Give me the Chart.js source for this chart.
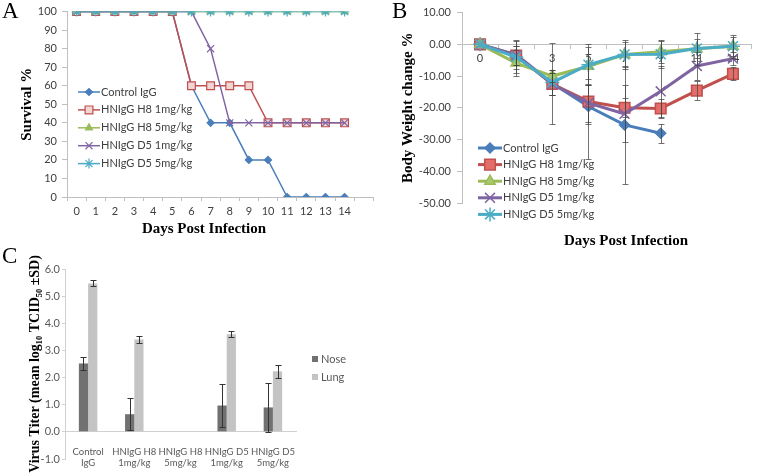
<!DOCTYPE html>
<html>
<head>
<meta charset="utf-8">
<script src="https://cdn.jsdelivr.net/npm/chart.js"></script>
<style>
  body { margin: 0; background: #fff; }
  #wrap { position: relative; width: 760px; height: 473px; overflow: hidden; }
  canvas { position: absolute; }
  .panel { position: absolute; font-family: "Liberation Serif", serif; font-size: 23px; line-height: 23px; color: #000; }
  .xtitle { position: absolute; font-family: "Liberation Serif", serif; font-weight: bold; font-size: 15px; line-height: 18px; white-space: nowrap; transform: translate(-50%, -50%); color: #000; }
</style>
</head>
<body>
<div id="wrap">
  <canvas id="survival" width="380" height="240" style="left:0;top:0"></canvas>
  <canvas id="weight" width="380" height="250" style="left:380px;top:0"></canvas>
  <canvas id="titer" width="380" height="228" style="left:0;top:245px"></canvas>
  <div class="panel" style="left:2px;top:-1px">A</div>
  <div class="panel" style="left:392px;top:-1px">B</div>
  <div class="panel" style="left:2px;top:244px">C</div>
  <div class="xtitle" style="left:204px;top:228px">Days Post Infection</div>
  <div class="xtitle" style="left:626px;top:240px">Days Post Infection</div>
</div>
<script>
// series names shared by A and B
const groupNames = ["Control IgG", "HNIgG H8 1mg/kg", "HNIgG H8 5mg/kg", "HNIgG D5 1mg/kg", "HNIgG D5 5mg/kg"];

// A: survival
const survivalDays = ["0", "1", "2", "3", "4", "5", "6", "7", "8", "9", "10", "11", "12", "13", "14", ""];
const survControl = [100, 100, 100, 100, 100, 100, 60, 40, 40, 20, 20, 0, 0, 0, 0];
const survH8low = [100, 100, 100, 100, 100, 100, 60, 60, 60, 60, 40, 40, 40, 40, 40];
const survH8high = [100, 100, 100, 100, 100, 100, 100, 100, 100, 100, 100, 100, 100, 100, 100];
const survD5low = [100, 100, 100, 100, 100, 100, 100, 80, 40, 40, 40, 40, 40, 40, 40];
const survD5high = [100, 100, 100, 100, 100, 100, 100, 100, 100, 100, 100, 100, 100, 100, 100];

// B: body weight change
const weightDays = ["0", "1", "3", "5", "7", "9", "11", "14"];
const wControl = [0, -3.2, -12.3, -19.6, -25.4, -28, null, null];
const wH8low = [0, -3.5, -12.5, -18, -20, -20.2, -14.6, -9.3];
const wH8high = [0, -5.9, -10, -6.9, -3.2, -2.3, -1.4, -0.6];
const wD5low = [0, -3.5, -12.5, -18.5, -21.9, -14.8, -6.8, -4.5];
const wD5high = [0, -4, -12, -6.4, -3.2, -3.1, -1.3, -0.6];
const sdControl = [0, 4.5, 12.8, 16.5, 18.5, 3, null, null];
const sdH8low = [0, 3, 3.5, 7, 3, 3, 3, 2];
const sdH8high = [0, 4, 2, 6, 4.5, 3.5, 5, 3];
const sdD5low = [0, 3, 3.5, 6, 9, 8, 4.5, 2];
const sdD5high = [0, 5, 4, 6.5, 4, 4.5, 3, 3.6];

// C: virus titer
const titerGroups = [["Control", "IgG"], ["HNIgG H8", "1mg/kg"], ["HNIgG H8", "5mg/kg"], ["HNIgG D5", "1mg/kg"], ["HNIgG D5", "5mg/kg"]];
const noseTiter = [2.52, 0.65, null, 0.97, 0.9];
const lungTiter = [5.47, 3.4, null, 3.6, 2.23];
const noseSD = [0.25, 0.58, null, 0.78, 0.9];
const lungSD = [0.11, 0.13, null, 0.12, 0.24];

const colors = ["#4a7ebb", "#c0504d", "#9bbb59", "#8064a2", "#4bacc6"];
const smallFont = { family: "Lato", size: 11 };
const serifBold = { family: "Liberation Serif", size: 15, weight: "bold" };

// legend drawn inside the plot area
const insideLegend = {
  id: "insideLegend",
  afterDraw(chart, args, opts) {
    const ctx = chart.ctx;
    ctx.save();
    ctx.font = "11px Lato";
    ctx.textBaseline = "middle";
    chart.data.datasets.forEach((ds, i) => {
      const y = opts.y + i * opts.gap;
      if (opts.box) {
        ctx.fillStyle = ds.backgroundColor;
        ctx.fillRect(opts.x - opts.box / 2, y - opts.box / 2, opts.box, opts.box);
      } else {
        ctx.strokeStyle = ds.borderColor;
        ctx.lineWidth = ds.borderWidth;
        ctx.beginPath();
        ctx.moveTo(opts.x, y);
        ctx.lineTo(opts.x + opts.lineLen, y);
        ctx.stroke();
        ctx.fillStyle = ds.pointBackgroundColor;
        ctx.strokeStyle = ds.pointBorderColor;
        ctx.lineWidth = ds.pointBorderWidth;
        Chart.helpers.drawPoint(ctx, {
          pointStyle: ds.pointStyle,
          radius: ds.pointRadius,
          rotation: 0,
          borderWidth: ds.pointBorderWidth
        }, opts.x + opts.lineLen / 2, y);
      }
      ctx.fillStyle = opts.color;
      ctx.fillText(ds.label, opts.textX, y);
    });
    ctx.restore();
  }
};

// vertical error bars from each dataset's errorBars array
const errorBars = {
  id: "errorBars",
  afterDatasetsDraw(chart, args, opts) {
    const ctx = chart.ctx;
    const yScale = chart.scales.y;
    ctx.save();
    ctx.strokeStyle = opts.color;
    ctx.lineWidth = 1;
    chart.data.datasets.forEach((ds, i) => {
      if (!ds.errorBars) return;
      const meta = chart.getDatasetMeta(i);
      meta.data.forEach((el, j) => {
        const v = ds.data[j];
        const e = ds.errorBars[j];
        if (v == null || !e) return;
        const x = Math.round(el.x) + 0.5;
        const top = Math.round(yScale.getPixelForValue(v + e)) + 0.5;
        const bot = Math.round(yScale.getPixelForValue(v - e)) + 0.5;
        ctx.beginPath();
        ctx.moveTo(x, top);
        ctx.lineTo(x, bot);
        ctx.moveTo(x - opts.cap, top);
        ctx.lineTo(x + opts.cap, top);
        ctx.moveTo(x - opts.cap, bot);
        ctx.lineTo(x + opts.cap, bot);
        ctx.stroke();
      });
    });
    ctx.restore();
  }
};

function lineSet(label, data, i, big) {
  const styles = ["rectRot", "rect", "triangle", "crossRot", "star"];
  const radiiA = [3.5, 5.5, 4, 5, 5];
  const radiiB = [5, 7.5, 6, 7, 7];
  const fillsA = [colors[0], "#f2d6d5", colors[2], colors[3], colors[4]];
  const fillsB = [colors[0], "#e46c69", "#a9c96a", colors[3], colors[4]];
  return {
    label: label,
    data: data,
    order: 4 - i,
    borderColor: colors[i],
    borderWidth: big ? 3 : 1.5,
    pointStyle: styles[i],
    pointRadius: big ? radiiB[i] : radiiA[i],
    pointBackgroundColor: big ? fillsB[i] : fillsA[i],
    pointBorderColor: colors[i],
    pointBorderWidth: big ? 1.5 : 1.2,
    tension: 0,
    spanGaps: false
  };
}

new Chart(document.getElementById("survival"), {
  type: "line",
  data: {
    labels: survivalDays,
    datasets: [
      lineSet(groupNames[0], survControl, 0, false),
      lineSet(groupNames[1], survH8low, 1, false),
      lineSet(groupNames[2], survH8high, 2, false),
      lineSet(groupNames[3], survD5low, 3, false),
      lineSet(groupNames[4], survD5high, 4, false)
    ]
  },
  plugins: [insideLegend],
  options: {
    responsive: false,
    animation: false,
    layout: { padding: { top: 11, right: 6, bottom: 0, left: 0 } },
    plugins: {
      legend: { display: false },
      tooltip: { enabled: false },
      insideLegend: { x: 78, y: 92, gap: 17.9, lineLen: 22, textX: 101, color: "#404040" }
    },
    scales: {
      x: {
        offset: true,
        border: { color: "#bfbfbf" },
        grid: { display: true, drawOnChartArea: false, offset: true, tickLength: 4, color: "#bfbfbf" },
        ticks: { font: smallFont, color: "#404040", padding: 4, maxRotation: 0, autoSkip: false },
        afterFit: (s) => { s.height = 43; }
      },
      y: {
        min: 0,
        max: 100,
        border: { color: "#bfbfbf" },
        grid: { display: true, drawOnChartArea: false, tickLength: 5, color: "#bfbfbf" },
        ticks: { stepSize: 10, font: smallFont, color: "#404040", padding: 5 },
        title: { display: true, text: "Survival %", font: serifBold, color: "#000", padding: { top: 18, bottom: 0 } },
        afterFit: (s) => { s.width = 67; }
      }
    }
  }
});

const weightSets = [
  lineSet(groupNames[0], wControl, 0, true),
  lineSet(groupNames[1], wH8low, 1, true),
  lineSet(groupNames[2], wH8high, 2, true),
  lineSet(groupNames[3], wD5low, 3, true),
  lineSet(groupNames[4], wD5high, 4, true)
];
const weightSDs = [sdControl, sdH8low, sdH8high, sdD5low, sdD5high];
weightSets.forEach((ds, i) => { ds.errorBars = weightSDs[i]; });

new Chart(document.getElementById("weight"), {
  type: "line",
  data: { labels: weightDays, datasets: weightSets },
  plugins: [errorBars, insideLegend],
  options: {
    responsive: false,
    animation: false,
    layout: { padding: { top: 11, right: 3, bottom: 47, left: 0 } },
    plugins: {
      legend: { display: false },
      tooltip: { enabled: false },
      errorBars: { color: "rgba(70,70,70,0.75)", cap: 3 },
      insideLegend: { x: 98, y: 148, gap: 16.6, lineLen: 24, textX: 123, color: "#404040" }
    },
    scales: {
      x: {
        position: { y: 0 },
        offset: true,
        z: 1,
        border: { color: "#bfbfbf" },
        grid: { display: true, drawOnChartArea: false, offset: true, tickLength: 4, color: "#bfbfbf" },
        ticks: { font: smallFont, color: "#404040", padding: 4, maxRotation: 0, autoSkip: false }
      },
      y: {
        min: -50,
        max: 10,
        border: { color: "#bfbfbf" },
        grid: { display: true, drawOnChartArea: false, tickLength: 5, color: "#bfbfbf" },
        ticks: { stepSize: 10, font: smallFont, color: "#404040", padding: 6, callback: (v) => v.toFixed(2) },
        title: { display: true, text: "Body Weight change %", font: serifBold, color: "#000", padding: { top: 19, bottom: 0 } },
        afterFit: (s) => { s.width = 82; }
      }
    }
  }
});

new Chart(document.getElementById("titer"), {
  type: "bar",
  data: {
    labels: titerGroups,
    datasets: [
      { label: "Nose", data: noseTiter, errorBars: noseSD, backgroundColor: "#717171" },
      { label: "Lung", data: lungTiter, errorBars: lungSD, backgroundColor: "#c4c4c4" }
    ]
  },
  plugins: [errorBars, insideLegend],
  options: {
    responsive: false,
    animation: false,
    layout: { padding: { top: 24, right: 84, bottom: 14, left: 0 } },
    datasets: { bar: { barPercentage: 1, categoryPercentage: 0.4 } },
    plugins: {
      legend: { display: false },
      tooltip: { enabled: false },
      errorBars: { color: "#333", cap: 3 },
      insideLegend: { x: 315, y: 114, gap: 18, box: 6, textX: 321, color: "#595959" }
    },
    scales: {
      x: {
        position: { y: 0 },
        border: { color: "#d0d0d0" },
        grid: { display: false },
        ticks: { font: { family: "Lato", size: 9.5 }, color: "#595959", padding: 6, maxRotation: 0, autoSkip: false }
      },
      y: {
        min: -1,
        max: 6,
        border: { color: "#d0d0d0" },
        grid: { display: true, drawOnChartArea: false, tickLength: 3, color: "#d0d0d0" },
        ticks: { stepSize: 1, font: smallFont, color: "#595959", padding: 2, callback: (v) => v.toFixed(1) },
        title: { display: true, text: "Virus Titer (mean log₁₀ TCID₅₀ ±SD)", font: { family: "Liberation Serif", size: 14, weight: "bold" }, color: "#000", padding: { top: 27, bottom: 0 } },
        afterFit: (s) => { s.width = 65; }
      }
    }
  }
});
</script>
</body>
</html>
